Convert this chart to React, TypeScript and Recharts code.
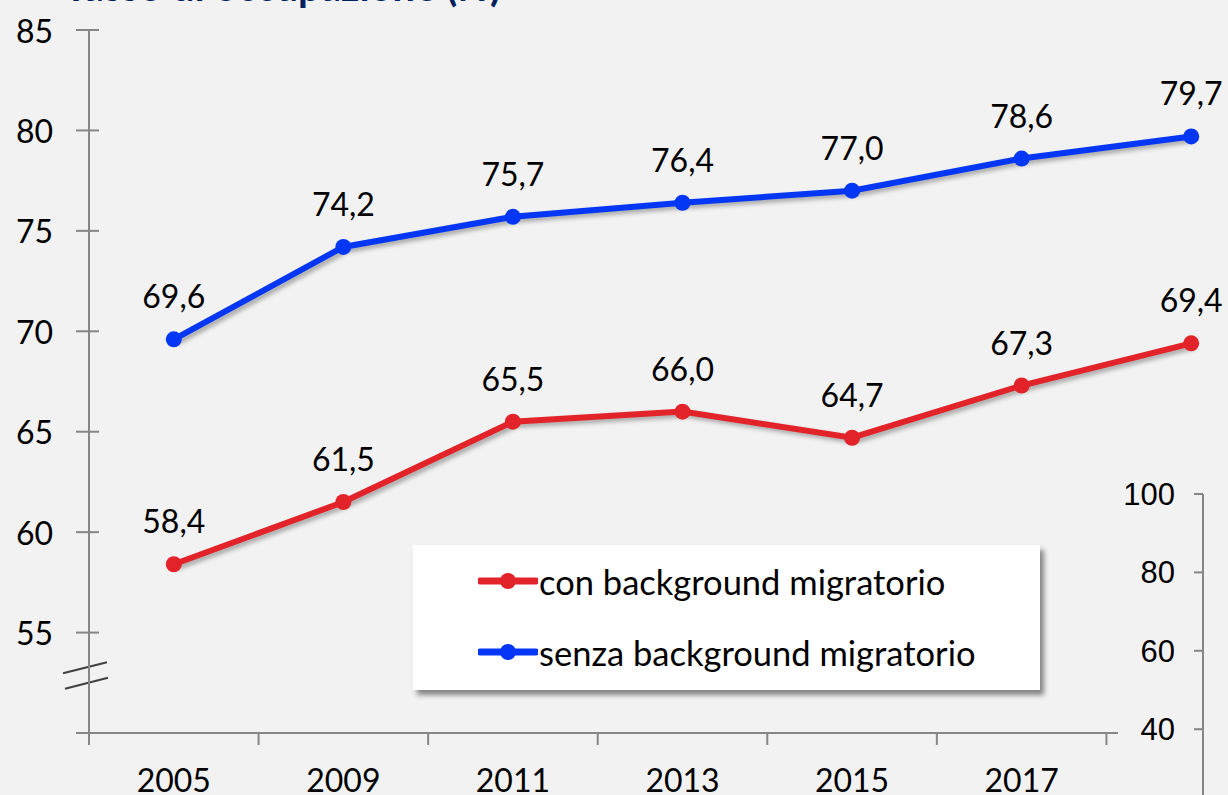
import React from "react";
import {
  LineChart,
  Line,
  XAxis,
  YAxis,
  Legend,
  LabelList,
  ReferenceLine,
} from "recharts";

const YEARS = ["2005", "2009", "2011", "2013", "2015", "2017", "2019"];
const CON_BACKGROUND = [58.4, 61.5, 65.5, 66.0, 64.7, 67.3, 69.4];
const SENZA_BACKGROUND = [69.6, 74.2, 75.7, 76.4, 77.0, 78.6, 79.7];
const Y_TICKS = [50, 55, 60, 65, 70, 75, 80, 85];
const SIDE_TICKS = [40, 60, 80, 100];

const RED = "#e3232a";
const BLUE = "#0437f5";
const AXIS = "#868686";
const BG = "#f2f2f2";
const FONT = "Lato, 'Open Sans', sans-serif";

const data = YEARS.map((year, i) => ({
  year,
  con: CON_BACKGROUND[i],
  senza: SENZA_BACKGROUND[i],
}));

const fmt = (v: number) => v.toFixed(1).replace(".", ",");

function YTick({ x, y, payload }: any) {
  return (
    <g>
      <line x1={x - 13} y1={y} x2={x + 10} y2={y} stroke={AXIS} strokeWidth={2} />
      {payload.value !== 50 && (
        <text x={x - 36} y={y} textAnchor="end" dominantBaseline="central" fontSize={32} fontFamily={FONT} fill="#000">
          {payload.value}
        </text>
      )}
    </g>
  );
}

function XTick({ x, y, payload, index }: any) {
  const half = payload.offset || 84.8;
  return (
    <g>
      <line x1={x + half} y1={y} x2={x + half} y2={y + 12} stroke={AXIS} strokeWidth={2} />
      {index === 0 && <line x1={x - half} y1={y} x2={x - half} y2={y + 12} stroke={AXIS} strokeWidth={2} />}
      <text x={x} y={y + 59} textAnchor="middle" fontSize={32} fontFamily={FONT} fill="#000">
        {payload.value}
      </text>
    </g>
  );
}

function BreakMark(props: any) {
  const { x1, y1 } = props;
  return (
    <g>
      <line x1={x1 - 26} y1={y1 + 5.5} x2={x1 + 18} y2={y1 - 5.5} stroke="#404040" strokeWidth={2} />
      <line x1={x1 - 24} y1={y1 + 21} x2={x1 + 19} y2={y1 + 10} stroke="#404040" strokeWidth={2} />
    </g>
  );
}

function LegendBox({ payload }: any) {
  return (
    <div
      style={{
        background: "#fff",
        width: 627,
        height: 145,
        boxShadow: "4px 5px 5px rgba(0,0,0,0.45)",
        position: "relative",
      }}
    >
      {(payload || []).map((item: any, i: number) => (
        <div
          key={item.value}
          style={{
            position: "absolute",
            left: 65,
            top: 36 + i * 71 - 22,
            height: 44,
            display: "flex",
            alignItems: "center",
          }}
        >
          <svg width={60} height={24}>
            <line x1={2} y1={12} x2={58} y2={12} stroke={item.color} strokeWidth={7} strokeLinecap="round" />
            <circle cx={30} cy={12} r={8} fill={item.color} />
          </svg>
          <span style={{ fontFamily: FONT, fontSize: 34.5, color: "#000", marginLeft: 1 }}>{item.value}</span>
        </div>
      ))}
    </div>
  );
}

export default function App() {
  return (
    <div
      style={{
        position: "absolute",
        left: 0,
        top: 0,
        width: 1228,
        height: 795,
        overflow: "hidden",
        background: BG,
      }}
    >
      <style>{`
        .shadow-line .recharts-line-curve, .shadow-line .recharts-line-dot {
          filter: drop-shadow(3px 3px 2px rgba(0,0,0,0.3));
        }
      `}</style>
      <svg width={600} height={20} style={{ position: "absolute", left: 0, top: 0 }}>
        <text x={64} y={1} fontSize={40} fontWeight={700} fontFamily={FONT} fill="#002060">
          Tasso di occupazione (%)
        </text>
      </svg>
      <div style={{ position: "absolute", left: 0, top: 0 }}>
        <LineChart
          width={1276}
          height={795}
          data={data}
          margin={{ top: 30, right: 0, left: 0, bottom: 0 }}
        >
          <XAxis
            dataKey="year"
            scale="band"
            height={62}
            axisLine={{ stroke: AXIS, strokeWidth: 2 }}
            tickLine={false}
            tickSize={0}
            tickMargin={0}
            interval={0}
            tick={<XTick />}
          />
          <YAxis
            width={89}
            domain={[50, 85]}
            ticks={Y_TICKS}
            interval={0}
            axisLine={{ stroke: AXIS, strokeWidth: 2 }}
            tickLine={false}
            tickSize={0}
            tickMargin={0}
            tick={<YTick />}
          />
          <ReferenceLine y={53.25} ifOverflow="visible" shape={<BreakMark />} />
          <Legend
            layout="vertical"
            align="center"
            verticalAlign="middle"
            content={<LegendBox />}
            wrapperStyle={{ position: "absolute", left: 413, top: 545, width: 627, height: 145 }}
          />
          <Line
            className="shadow-line"
            dataKey="con"
            name="con background migratorio"
            stroke={RED}
            strokeWidth={6}
            dot={{ r: 8, fill: RED, stroke: RED, strokeWidth: 0 }}
            isAnimationActive={false}
          >
            <LabelList dataKey="con" position="top" offset={31} formatter={fmt} fontSize={32} fontFamily={FONT} fill="#000" />
          </Line>
          <Line
            className="shadow-line"
            dataKey="senza"
            name="senza background migratorio"
            stroke={BLUE}
            strokeWidth={6}
            dot={{ r: 8, fill: BLUE, stroke: BLUE, strokeWidth: 0 }}
            isAnimationActive={false}
          >
            <LabelList dataKey="senza" position="top" offset={31} formatter={fmt} fontSize={32} fontFamily={FONT} fill="#000" />
          </Line>
        </LineChart>
      </div>
      <div
        style={{
          position: "absolute",
          left: 1118,
          top: 470,
          width: 110,
          height: 430,
          background: BG,
        }}
      >
        <LineChart
          width={110}
          height={430}
          data={SIDE_TICKS.map((v) => ({ v }))}
          margin={{ top: 24, right: 0, left: 0, bottom: 14 }}
        >
          <XAxis hide />
          <YAxis
            width={85}
            domain={[0, 100]}
            ticks={SIDE_TICKS}
            interval={0}
            axisLine={{ stroke: AXIS, strokeWidth: 2 }}
            tickLine={{ stroke: AXIS, strokeWidth: 2 }}
            tickSize={9}
            tickMargin={19}
            tick={{ fontSize: 31, fontFamily: "'Liberation Sans', Arial, sans-serif", fill: "#000" }}
          />
          <Line dataKey="v" stroke="none" dot={false} activeDot={false} isAnimationActive={false} />
        </LineChart>
      </div>
    </div>
  );
}
